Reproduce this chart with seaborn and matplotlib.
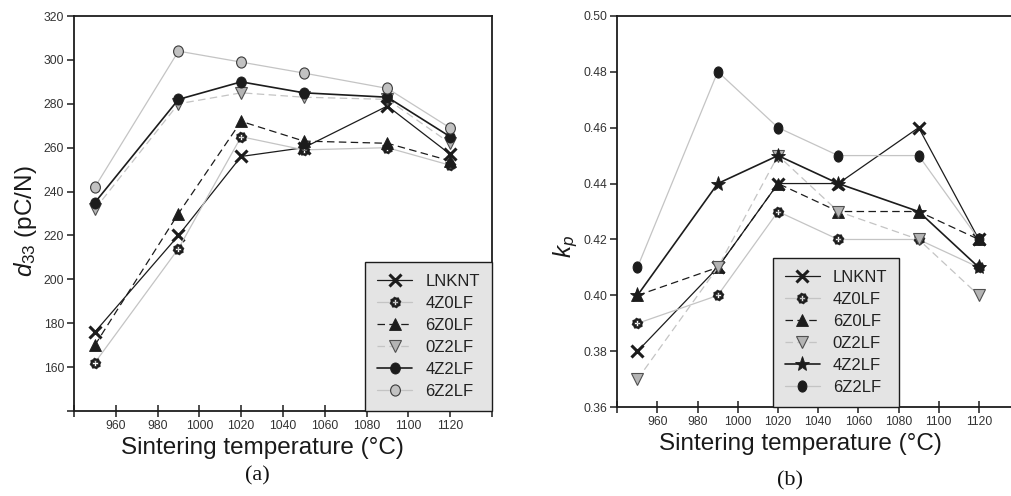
import numpy as np
import pandas as pd
import matplotlib
matplotlib.use("Agg")
import matplotlib.pyplot as plt
from matplotlib.path import Path
import seaborn as sns

# ---- data -----------------------------------------------------------------
temps = [950, 990, 1020, 1050, 1090, 1120]
series = ["LNKNT", "4Z0LF", "6Z0LF", "0Z2LF", "4Z2LF", "6Z2LF"]

d33_lnknt = [176, 220, 256, 260, 279, 257]
d33_4z0lf = [162, 214, 265, 259, 260, 252]
d33_6z0lf = [170, 230, 272, 263, 262, 254]
d33_0z2lf = [232, 280, 285, 283, 282, 262]
d33_4z2lf = [235, 282, 290, 285, 283, 265]
d33_6z2lf = [242, 304, 299, 294, 287, 269]

kp_lnknt = [0.38, 0.41, 0.44, 0.44, 0.46, 0.42]
kp_4z0lf = [0.39, 0.40, 0.43, 0.42, 0.42, 0.41]
kp_6z0lf = [0.40, 0.41, 0.44, 0.43, 0.43, 0.42]
kp_0z2lf = [0.37, 0.41, 0.45, 0.43, 0.42, 0.40]
kp_4z2lf = [0.40, 0.44, 0.45, 0.44, 0.43, 0.41]
kp_6z2lf = [0.41, 0.48, 0.46, 0.45, 0.45, 0.42]

x_ticks = [940, 960, 980, 1000, 1020, 1040, 1060, 1080, 1100, 1120, 1140]
d33_ticks = [140, 160, 180, 200, 220, 240, 260, 280, 300, 320]
kp_ticks = [0.36, 0.38, 0.40, 0.42, 0.44, 0.46, 0.48, 0.50]

d33_table = pd.DataFrame({
    "T": temps * 6,
    "value": d33_lnknt + d33_4z0lf + d33_6z0lf + d33_0z2lf + d33_4z2lf + d33_6z2lf,
    "sample": sum([[s] * len(temps) for s in series], []),
})
kp_table = pd.DataFrame({
    "T": temps * 6,
    "value": kp_lnknt + kp_4z0lf + kp_6z0lf + kp_0z2lf + kp_4z2lf + kp_6z2lf,
    "sample": sum([[s] * len(temps) for s in series], []),
})

# ---- custom marker shapes --------------------------------------------------
def gear_marker():
    n = 16
    ang = np.linspace(0, 2 * np.pi, n, endpoint=False) + np.pi / 16
    rad = np.where(np.arange(n) % 2 == 0, 1.0, 0.82)
    outer = np.column_stack([rad * np.cos(ang), rad * np.sin(ang)])
    a, w = 0.5, 0.17
    # clockwise outline of a small cross: opposite winding cuts a hole
    plus = np.array([[w, w], [a, w], [a, -w], [w, -w], [w, -a], [-w, -a],
                     [-w, -w], [-a, -w], [-a, w], [-w, w], [-w, a], [w, a]])
    verts = np.vstack([outer, outer[:1], plus, plus[:1]])
    codes = ([Path.MOVETO] + [Path.LINETO] * (n - 1) + [Path.CLOSEPOLY] +
             [Path.MOVETO] + [Path.LINETO] * (len(plus) - 1) + [Path.CLOSEPOLY])
    return Path(verts, codes)


def ellipse_marker(xscale):
    c = Path.unit_circle()
    return Path(c.vertices * np.array([xscale, 1.0]), c.codes)


GEAR = gear_marker()
OVAL = ellipse_marker(0.78)
ROUND = ellipse_marker(0.88)

BLACK = "#1c1c1c"
LIGHT = "#c4c4c4"

styles_a = {
    "LNKNT": dict(color=BLACK, ls="-", lw=0.9, marker="x", ms=8, mew=2.2,
                  mfc=BLACK, mec=BLACK),
    "4Z0LF": dict(color=LIGHT, ls="-", lw=0.9, marker=GEAR, ms=8, mew=0.4,
                  mfc=BLACK, mec=BLACK),
    "6Z0LF": dict(color=BLACK, ls=(0, (6, 3.5)), lw=0.9, marker="^", ms=8,
                  mew=0.6, mfc=BLACK, mec=BLACK),
    "0Z2LF": dict(color=LIGHT, ls=(0, (6, 3.5)), lw=0.9, marker="v", ms=8,
                  mew=0.8, mfc="#b4b4b4", mec="#505050"),
    "4Z2LF": dict(color=BLACK, ls="-", lw=1.2, marker=ROUND, ms=8, mew=0.6,
                  mfc=BLACK, mec=BLACK),
    "6Z2LF": dict(color=LIGHT, ls="-", lw=0.9, marker=ROUND, ms=8, mew=0.8,
                  mfc="#c2c2c2", mec="#3a3a3a"),
}
styles_b = {k: dict(v) for k, v in styles_a.items()}
styles_b["4Z2LF"].update(marker="*", ms=11, mew=0.6)
styles_b["6Z2LF"].update(marker=OVAL, ms=8, mfc=BLACK, mec=BLACK)

# ---- figure -----------------------------------------------------------------
sns.set_theme(style="white")
plt.rcParams["font.family"] = ["Liberation Sans", "DejaVu Sans"]
plt.rcParams["mathtext.fontset"] = "custom"
plt.rcParams["mathtext.rm"] = "Liberation Sans"
plt.rcParams["mathtext.it"] = "Liberation Sans:italic"

fig = plt.figure(figsize=(10.12, 4.96), dpi=100)
ax_a = fig.add_axes([0.0731, 0.1714, 0.4130, 0.7963])
ax_b = fig.add_axes([0.6100, 0.1788, 0.3970, 0.7895])


def draw_panel(ax, table, styles, xlim, ylim, yticks, yfmt, xlabel_x):
    for name in series:
        st = styles[name]
        sub = table[table["sample"] == name]
        sns.lineplot(data=sub, x="T", y="value", ax=ax, label=name,
                     color=st["color"], linestyle=st["ls"], linewidth=st["lw"],
                     marker=st["marker"], markersize=st["ms"],
                     markeredgewidth=st["mew"], markerfacecolor=st["mfc"],
                     markeredgecolor=st["mec"], legend=False, zorder=3)
    ax.set_xlim(*xlim)
    ax.set_ylim(*ylim)
    ax.set_xticks(x_ticks)
    ax.set_xticklabels([""] + [str(t) for t in x_ticks[1:-1]] + [""])
    ax.set_yticks(yticks)
    ax.set_yticklabels([yfmt(v) for v in yticks])
    for sp in ax.spines.values():
        sp.set_color(BLACK)
        sp.set_linewidth(1.3)
        sp.set_visible(True)
    ax.tick_params(axis="x", direction="inout", length=9, width=1.1,
                   colors=BLACK, labelcolor="#333333", labelsize=8.7, pad=2,
                   bottom=True)
    ax.tick_params(axis="y", direction="out", length=5, width=1.1,
                   colors=BLACK, labelcolor="#333333", labelsize=8.7, pad=2,
                   left=True)
    ax.set_xlabel("Sintering temperature (°C)", fontsize=17.5, color="#1a1a1a")
    ax.xaxis.set_label_coords(xlabel_x, -0.066)
    ax.grid(False)


draw_panel(ax_a, d33_table, styles_a, (940, 1140), (140, 320), d33_ticks,
           lambda v: "" if v == 140 else f"{v:d}", 0.45)
draw_panel(ax_b, kp_table, styles_b, (940, 1140), (0.36, 0.50), kp_ticks,
           lambda v: f"{v:.2f}", 0.457)

ax_a.set_ylabel(r"$d_{33}$ (pC/N)", fontsize=17.5, color="#1a1a1a")
ax_a.yaxis.set_label_coords(-0.084, 0.48)
ax_b.set_ylabel(r"$k_p$", fontsize=17.5, color="#1a1a1a")
ax_b.yaxis.set_label_coords(-0.093, 0.41)


def add_legend(ax, anchor):
    handles, labels = ax.get_legend_handles_labels()
    leg = ax.legend(handles, labels, loc="lower right", bbox_to_anchor=anchor,
                    frameon=True, fancybox=False, framealpha=1,
                    facecolor="#e4e4e4", edgecolor=BLACK, fontsize=12,
                    handlelength=2.1, handletextpad=0.78, labelspacing=0.42,
                    borderpad=0.72, borderaxespad=0)
    leg.get_frame().set_linewidth(1.0)
    for t in leg.get_texts():
        t.set_color("#222222")
    leg.set_zorder(5)
    return leg


add_legend(ax_a, (1.0, 0.0))
add_legend(ax_b, (0.702, 0.0))

serif = ["Liberation Serif", "DejaVu Serif"]
fig.text(257 / 1012, 1 - 476 / 496, "(a)", ha="center", va="center",
         fontsize=16, family=serif, color="#111111")
fig.text(790 / 1012, 1 - 481 / 496, "(b)", ha="center", va="center",
         fontsize=16, family=serif, color="#111111")

fig.savefig("out.png", dpi=100)
